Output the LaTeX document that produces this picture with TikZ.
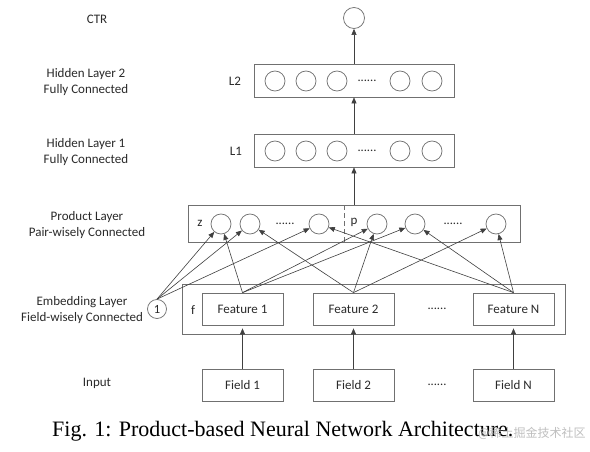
\documentclass[tikz,border=0pt]{standalone}
\usepackage{fontspec}
\setmainfont{Carlito}
\newfontfamily\capfont{Liberation Serif}
\newfontfamily\cjkfont{Noto Sans CJK SC}
\usetikzlibrary{arrows.meta}
\definecolor{edgecol}{HTML}{404040}
\definecolor{boxcol}{HTML}{707070}
\definecolor{txtcol}{HTML}{2A2A2A}
\begin{document}
\begin{tikzpicture}[x=1pt,y=-1pt,
  lbl/.style={font=\fontsize{13}{16}\selectfont, align=center, inner sep=0, text=txtcol},
  frame/.style={draw=boxcol, line width=0.75pt, inner sep=0, text=txtcol, font=\fontsize{13}{16}\selectfont},
  neuron/.style={circle, draw=boxcol, line width=0.75pt, minimum size=20pt, inner sep=0},
  arr/.style={draw=edgecol, line width=0.6pt, -{Triangle[length=6pt,width=5pt]}},
  dotsl/.style={font=\fontsize{12.5}{16}\selectfont, inner sep=0, text=txtcol}
]
\useasboundingbox (0,0) rectangle (590,452);
\fill[white] (0,0) rectangle (590,452);

% CTR
\node[neuron, minimum size=21pt] (ctr) at (354,18) {};
\node[lbl] (tctr) at (97,19) {CTR};

% Hidden layer 2
\node[frame, minimum width=200pt, minimum height=33pt] (l2) at (354,80.5) {};
\node[lbl] (l2lab) at (235,81) {L2};
\node[neuron] (l2a) at (275,81) {};
\node[neuron] (l2b) at (306,81) {};
\node[neuron] (l2c) at (337,81) {};
\node[dotsl] (l2d) at (367,81) {......};
\node[neuron] (l2e) at (400,81) {};
\node[neuron] (l2f) at (432,81) {};
\node[lbl] (l2txt) at (86,82) {Hidden Layer 2\\Fully Connected};

% Hidden layer 1
\node[frame, minimum width=200pt, minimum height=33pt] (l1) at (354,150.5) {};
\node[lbl] (l1lab) at (236,151) {L1};
\node[neuron] (l1a) at (275,151) {};
\node[neuron] (l1b) at (306,151) {};
\node[neuron] (l1c) at (337,151) {};
\node[dotsl] (l1d) at (367,151) {......};
\node[neuron] (l1e) at (400,151) {};
\node[neuron] (l1f) at (432,151) {};
\node[lbl] (l1txt) at (86,152) {Hidden Layer 1\\Fully Connected};

% Product layer
\node[frame, minimum width=332pt, minimum height=37pt] (prod) at (354,223.5) {};
\draw[boxcol, line width=0.75pt, dash pattern=on 5pt off 3pt] (344,205) -- (344,242);
\node[lbl] (zlab) at (200,223) {z};
\node[lbl] (plab) at (354,222) {p};
\node[neuron] (z1) at (221,224) {};
\node[neuron] (z2) at (250,224) {};
\node[dotsl] (zd) at (285,224) {......};
\node[neuron] (z3) at (319,224) {};
\node[neuron] (p1) at (377,224) {};
\node[neuron] (p2) at (415,224) {};
\node[dotsl] (pd) at (453,224) {......};
\node[neuron] (p3) at (496,224) {};
\node[lbl] (prodtxt) at (87,225) {Product Layer\\Pair-wisely Connected};

% Embedding layer
\node[frame, minimum width=383pt, minimum height=50pt] (emb) at (373.5,309) {};
\node[lbl] (flab) at (193,310) {f};
\node[frame, minimum width=81pt, minimum height=32pt] (f1) at (242.5,309) {Feature 1};
\node[frame, minimum width=81pt, minimum height=32pt] (f2) at (353.5,309) {Feature 2};
\node[dotsl] (fd) at (437,309) {......};
\node[frame, minimum width=81pt, minimum height=32pt] (fn) at (513.5,309) {Feature N};
\node[circle, draw=boxcol, line width=0.75pt, minimum size=19pt, inner sep=0, text=txtcol, font=\fontsize{12.5}{16}\selectfont] (one) at (157,309) {1};
\node[lbl] (embtxt) at (82,310) {Embedding Layer\\Field-wisely Connected};

% Input
\node[lbl] (intxt) at (97,383) {Input};
\node[frame, minimum width=81pt, minimum height=32pt] (i1) at (242.5,385) {Field 1};
\node[frame, minimum width=81pt, minimum height=32pt] (i2) at (353.5,385) {Field 2};
\node[dotsl] (id) at (437,385) {......};
\node[frame, minimum width=81pt, minimum height=32pt] (in) at (513.5,385) {Field N};

% vertical arrows
\draw[arr] (l2.north) -- (ctr);
\draw[arr] (l1.north) -- (l2.south);
\draw[arr] (prod.north) -- (l1.south);
\draw[arr, shorten >=3pt] (i1.north) -- (f1.south);
\draw[arr, shorten >=3pt] (i2.north) -- (f2.south);
\draw[arr, shorten >=3pt] (in.north) -- (fn.south);

% product connections
\draw[arr] (one.north) -- (z1);
\draw[arr] (one.north) -- (z2);
\draw[arr] (one.north) -- (z3);
\draw[arr] (f1.north) -- (z1);
\draw[arr] (f1.north) -- (p1);
\draw[arr] (f1.north) -- (p2);
\draw[arr] (f2.north) -- (z2);
\draw[arr] (f2.north) -- (p1);
\draw[arr] (f2.north) -- (p3);
\draw[arr] (fn.north) -- (z3);
\draw[arr] (fn.north) -- (p2);
\draw[arr] (fn.north) -- (p3);

% caption
\node[font=\capfont\fontsize{22}{24}\selectfont, inner sep=0, anchor=base west, text=black] (cap) at (52,436) {Fig. 1: Product-based Neural Network Architecture.};
\node[font=\cjkfont\fontsize{12}{14}\selectfont, text=gray!50, anchor=base west, inner sep=0] (wm) at (478,437) {@稀土掘金技术社区};
\end{tikzpicture}
\end{document}
